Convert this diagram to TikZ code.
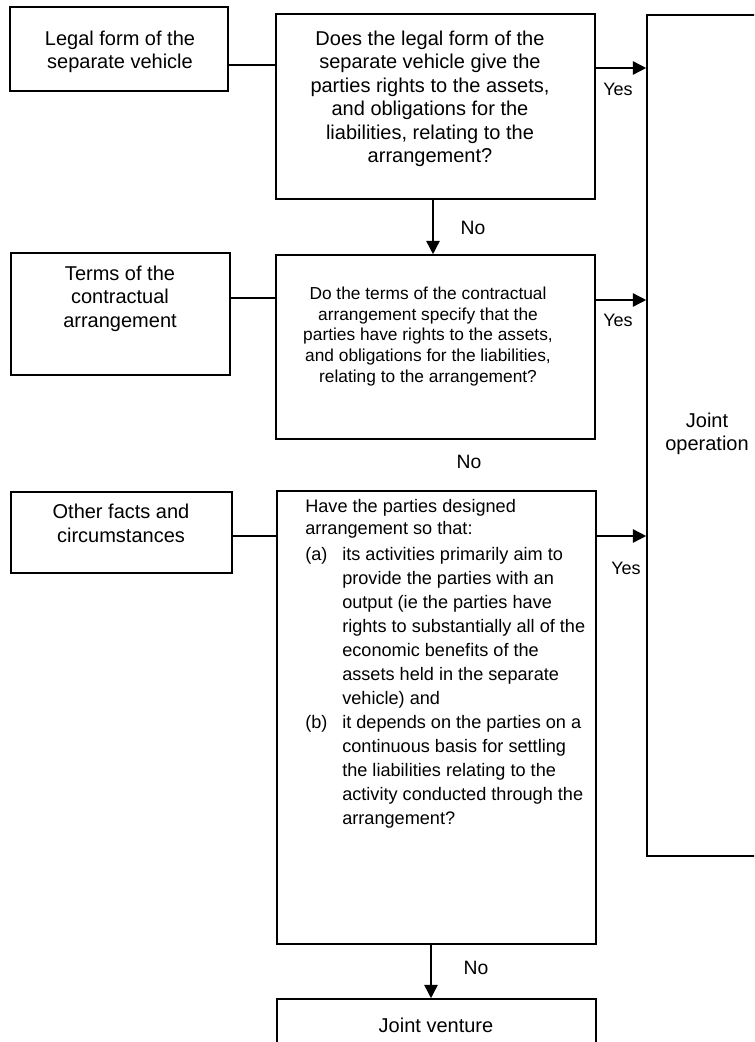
\documentclass[tikz,border=0pt]{standalone}
\usepackage{fontspec}
\setmainfont{Liberation Sans}
\usetikzlibrary{fit,arrows.meta}
\begin{document}
\begin{tikzpicture}[x=0.75pt,y=-0.75pt,
  box/.style={draw, line width=1.2pt, inner sep=0pt},
  txt/.style={align=center, inner sep=0pt},
  big/.style={font=\fontsize{15}{17.6}\selectfont},
  small/.style={font=\fontsize{13}{15.4}\selectfont},
  mid/.style={font=\fontsize{13.6}{18}\selectfont},
  lab/.style={inner sep=0pt, font=\fontsize{13.5}{16}\selectfont},
  link/.style={line width=1.2pt},
  arr/.style={line width=1.2pt, -{Triangle[length=10pt,width=10pt]}}
]
\useasboundingbox (0,0) rectangle (754,1042);
\clip (0,0) rectangle (754,1042);

% boxes
\node[box, fit={(10,7)(228,91)}] (L1) {};
\node[box, fit={(11,253)(230,375)}] (L2) {};
\node[box, fit={(11,492)(232,573)}] (L3) {};
\node[box, fit={(276,14)(595,199)}] (Q1) {};
\node[box, fit={(276,255)(595,439)}] (Q2) {};
\node[box, fit={(277,491)(596,944)}] (Q3) {};
\node[box, fit={(647,15)(820,856)}] (JO) {};
\node[box, fit={(277,999)(596,1090)}] (JV) {};

% texts
\node[txt, big] (L1t) at (120,52) {Legal form of the\\separate vehicle};
\node[txt, big] (L2t) at (120,298.5) {Terms of the\\contractual\\arrangement};
\node[txt, big] (L3t) at (121,523.5) {Other facts and\\circumstances};
\node[txt, big] (Q1t) at (430,99) {Does the legal form of the\\separate vehicle give the\\parties rights to the assets,\\and obligations for the\\liabilities, relating to the\\arrangement?};
\node[txt, small] (Q2t) at (428,336.5) {Do the terms of the contractual\\arrangement specify that the\\parties have rights to the assets,\\and obligations for the liabilities,\\relating to the arrangement?};
\node[txt, mid, align=left, anchor=north west] (Q3t) at (305,499) {Have the parties designed\\[-1.5pt]
arrangement so that:\\[1.5pt]
\makebox[27.75pt][l]{(a)}its activities primarily aim to\\
\hspace*{27.75pt}provide the parties with an\\
\hspace*{27.75pt}output (ie the parties have\\
\hspace*{27.75pt}rights to substantially all of the\\
\hspace*{27.75pt}economic benefits of the\\
\hspace*{27.75pt}assets held in the separate\\
\hspace*{27.75pt}vehicle) and\\
\makebox[27.75pt][l]{(b)}it depends on the parties on a\\
\hspace*{27.75pt}continuous basis for settling\\
\hspace*{27.75pt}the liabilities relating to the\\
\hspace*{27.75pt}activity conducted through the\\
\hspace*{27.75pt}arrangement?};
\node[txt, big] (JOt) at (707,434) {Joint\\operation};
\node[txt, big] (JVt) at (436,1025) {Joint venture};

% helper coordinates
\coordinate (c1) at (0,65);
\coordinate (c2) at (0,298);
\coordinate (c3) at (0,536);
\coordinate (y1) at (0,68);
\coordinate (y2) at (0,300);
\coordinate (y3) at (0,536);
\coordinate (n1) at (433,0);
\coordinate (n3) at (431,0);

% connectors
\draw[link] (L1.east |- c1) -- (Q1.west |- c1);
\draw[link] (L2.east |- c2) -- (Q2.west |- c2);
\draw[link] (L3.east |- c3) -- (Q3.west |- c3);
\draw[arr] (Q1.east |- y1) -- (JO.west |- y1);
\draw[arr] (Q2.east |- y2) -- (JO.west |- y2);
\draw[arr] (Q3.east |- y3) -- (JO.west |- y3);
\draw[arr] (Q1.south -| n1) -- (Q2.north -| n1);
\draw[arr] (Q3.south -| n3) -- (JV.north -| n3);

% labels
\node[lab] (yes1) at (618,89) {Yes};
\node[lab] (yes2) at (618,320) {Yes};
\node[lab] (yes3) at (626,568) {Yes};
\node[lab, font=\fontsize{14.5}{17}\selectfont] (no1) at (473,228) {No};
\node[lab, font=\fontsize{14.5}{17}\selectfont] (no2) at (469,462) {No};
\node[lab, font=\fontsize{14.5}{17}\selectfont] (no3) at (476,968) {No};
\end{tikzpicture}
\end{document}
